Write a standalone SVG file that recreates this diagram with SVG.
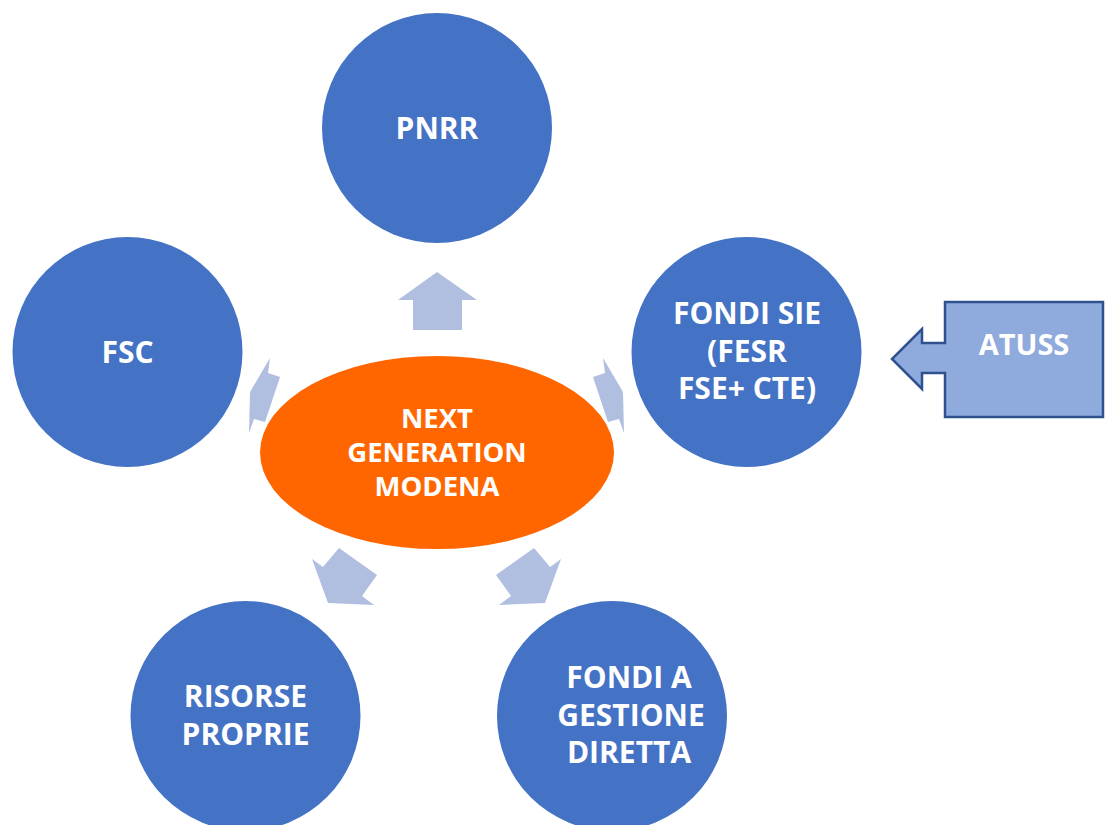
<svg xmlns="http://www.w3.org/2000/svg" width="1109" height="825" viewBox="0 0 1109 825">
<style>
.c{fill:#4472C4}
.e{fill:#FF6600}
.a{fill:#B0BEE0}
.t{fill:#FFFFFF;font-family:"Open Sans","Liberation Sans",sans-serif;font-weight:bold;font-size:30px;text-anchor:middle}
.te{font-size:27.5px}
.call{fill:#8FAADC;stroke:#2F528F;stroke-width:2.5;stroke-linejoin:miter}
</style>
<rect width="1109" height="825" fill="#FFFFFF"/>
<g id="connectors">
<polygon class="a" points="437,272 477,300 462,300 462,330 413,330 413,300 398,300"/>
<polygon class="a" points="270,358 250,392 249,433 254,419 265,422 280,377 268,373"/>
<polygon class="a" points="603,358 623,392 624,433 619,419 608,422 593,377 605,373"/>
<polygon class="a" points="312,559 323,567 339,548 377,575 362,596 374,605 328,603"/>
<polygon class="a" points="561,559 550,567 534,548 496,575 511,596 499,605 545,603"/>
</g>
<g id="pnrr">
<circle class="c" cx="437" cy="128" r="115"/>
<text class="t" x="437" y="139">PNRR</text>
</g>
<g id="fsc">
<circle class="c" cx="127.5" cy="352" r="115"/>
<text class="t" x="127.5" y="363">FSC</text>
</g>
<g id="fondi-sie">
<circle class="c" cx="746.5" cy="352" r="115"/>
<text class="t"><tspan x="747" y="324">FONDI SIE</tspan><tspan x="747" y="361.5">(FESR</tspan><tspan x="747" y="399">FSE+ CTE)</tspan></text>
</g>
<g id="risorse-proprie">
<circle class="c" cx="245.5" cy="716" r="115"/>
<text class="t"><tspan x="245.5" y="707">RISORSE</tspan><tspan x="245.5" y="745">PROPRIE</tspan></text>
</g>
<g id="fondi-gestione">
<circle class="c" cx="612" cy="716" r="115"/>
<text class="t"><tspan x="629" y="688">FONDI A</tspan><tspan x="631" y="725.5">GESTIONE</tspan><tspan x="629" y="763">DIRETTA</tspan></text>
</g>
<g id="next-generation">
<ellipse class="e" cx="437" cy="452.5" rx="177" ry="96.5"/>
<text class="t te"><tspan x="437" y="428">NEXT</tspan><tspan x="437" y="462">GENERATION</tspan><tspan x="437" y="496">MODENA</tspan></text>
</g>
<g id="atuss">
<polygon class="call" points="945,302 1103,302 1103,417 945,417 945,373 922,373 922,389 892,359 922,329 922,343 945,343"/>
<text class="t" x="1024" y="355" style="font-size:29px">ATUSS</text>
</g>
</svg>
